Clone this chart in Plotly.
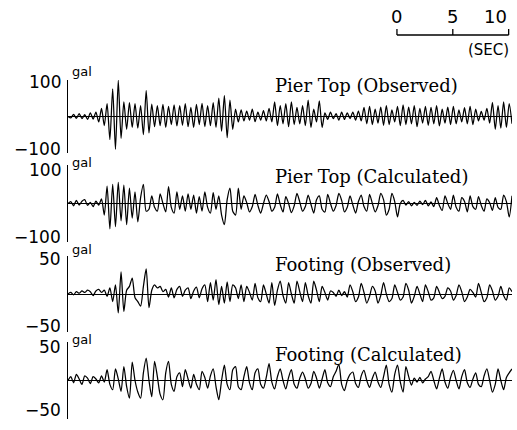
import numpy as np
import plotly.graph_objects as go

DT = 0.25  # seconds between samples

pier_top_observed = [
    0, -4, 6, -5, 8, -6, 5, -8, 10, -7,
    12, -15, 22, -25, 35, -63, 76, -90, 99, -60,
    40, -35, 38, -30, 35, -32,
    30, -50, 71, -45,
    34, -28, 30, -25, 33, -30, 28, -22, 32, -26, 30, -24, 35, -28, 25, -30, 33, -22, 36, -28, 30, -25, 38, -30,
    50, -40, 57, -58, 45, -35,
    20, -15, 18, -12, 15, -10, 20, -14, 12, -10, 16, -12, 22, -15,
    40, -25, 30, -20, 35, -28, 40, -22, 25, -20, 30, -25, 45, -30,
    20, -15, 43, -30,
    10, -8, 12, -6, 8, -10, 12, -8, 10, -6, 12, -10, 15, -12,
    25, -20, 28, -22, 20, -18, 26, -24, 30, -22, 18, -15, 28, -25, 32, -22, 26, -20, 30, -28, 22, -18, 28,
    -24, 25, -20, 30, -26, 20, -18, 26, -22, 28, -20, 18, -15, 24, -20, 28, -22, 20, -12, 14, -10, 22, -18,
    39, -35, 30, -32, 40, -30, 35, -20,
]

pier_top_calculated = [
    0, 5, -6, 8, -4, 6, 10, -5, 3, -8, 6, -4, 12,
    -30, 45, -66, 50, -60, 55, -45, 48, -55, 40, -38, 30, -48,
    15, 50, -20, -15,
    20, -10, -20, 25, 0, -22, 44, -10, -25, 30, -15, 20, -20, 25, -15, 22, -25, 18, -20, 30, -10, -25, 28, -15, 20, -30,
    -55, 10, 40, -20, -30, 40, -15,
    20, 2, -22, -8, 24, -5, -25, 0, 22, 5, -20, -10, 25, -3, -22, 18, 0, -24, -6, 26, 4, -20, -8, 22, -2, -25,
    10, 20, -15, -22, 24, 0, -20, -5, 26, 8, -22, -10, 20, -4, -25, 5, 22, -8, -20, 24, 0, -22, -6, 26, 10, -30,
    -15, 26, 5, -35, 0,
    8, -4, 5, -6, 3, -5, 6, -3, 8, -6, 4, -8,
    15, -5, -18, 20, 0, -15, 22, -10, -20, 15, 5, -22, 20, -8, -15, 18, -5, -20, 12, 2, -18, 15, -10, -15, 22, 5, -35, 20,
]

footing_observed = [
    0, 2, -1, 3, 1, 4, 2, 5, 3, -2, 4, 6, 2, 5, -3,
    8, -10, 12, -25, 29, -23,
    5, 10, 21, -5, -10, -16, 10, 33,
    -18, 5,
    12, 8, 10, 3, 6, -4, 8, -5, 6, 10, -3, 5, 8, -6, 4, 9, -5, 7,
    12, -10, 15, -8, 19, -14, 10, -12, 16, -10, 12,
    8, -6, 12, -10, 10, 2, -8, 14, -5, -10, 12, 0, -12, 15, -15,
    5, 17, -2, -12, 15, 0, -12, 17, 3, -10, 15, -2, -12, 17, 5, -10, 10, 2, -8,
    4, 2, -3, 5, -2, 3, -4,
    12, 3, -10, -4, 14, 2, -12, -3, 10, 4, -12, -2, 15, 0, -10, -6, 12, 2, -8, -4, 14, 5, -12, -3, 10, 0, -10,
    12, 3, -8, -5, 10, 2, -6, -3, 8, 4, -8, -2, 12, 3, -10, -4, 6, 2, -4, 14, 2, -10, -5, 12, 4, -8, -3, 10, -2,
    -8, 8, 3,
]

footing_calculated = [
    0, 5, -3, 8, 2, -5, 6, 3, -4, 5, 2, -3, 6, -2,
    14, -5, -12, 15, 2, -14, 18, -8, -23, 24, 0, -15,
    -23, 10, 29, 0, -21, 25, 5, -18, -25, 10, 25, -5,
    -14, 5, 10, -8, 14, 2, -10, 8, -5, -12, 12, 4, -10, 6, 15, -8,
    -25, 0, 20, -5, -12, 14, 18, -8, -12, 5, 18, -3, -12, 10, 15, -5, -10, 4,
    22, -2, -11, 5, 15, 0, -11, 4, 14, -5, -10, 3, 11, 2, -10, -4, 12, 3, -10, 2, 14, -3, -8, 5, 12,
    21, -5, -13, 0, 8,
    11, -4, -9, 6, 13, 0, -9, 3, 11, -2, -9, 5,
    20, -5, -15, 8, 20, -2, -15, 18,
    5, -6, 3, -2, 4, -3, 2, 5,
    12, 0, -11, 3, 15, -2, -10, 4, 13, 0, -11, 5, 14, -3, -9, 2, 10, -5, -8, 6, 15, 0, -15, -5,
    15, 0, -12, 4, 10, 15,
]

series = [pier_top_observed, pier_top_calculated, footing_observed, footing_calculated]
panel_titles = ["Pier Top (Observed)", "Pier Top (Calculated)", "Footing (Observed)", "Footing (Calculated)"]
y_limits = [100, 100, 50, 50]
unit_label = "gal"
scale_ticks = [0, 5, 10]
scale_unit = "(SEC)"

W, H = 517, 430
def fx(p):
    return p / W
def fy(p):
    return 1 - p / H

# pixel layout of each strip: (top, bottom)
strips = [(80, 153), (165, 242), (256, 332), (342, 419)]
top_label_y = [82, 170, 259, 347]
bot_label_y = [149, 237, 326, 410]
gal_y = [71, 162, 249, 339]
title_y = [85, 176, 264, 354]
x_left, x_right = 68, 512

fig = go.Figure()
layout = dict(
    width=W, height=H,
    margin=dict(l=0, r=0, t=0, b=0, autoexpand=False),
    paper_bgcolor="white", plot_bgcolor="white",
    showlegend=False,
)
annotations = []
shapes = []
t_end = (len(series[0]) - 1) * DT
label_font = dict(family="DejaVu Sans", size=17, color="black")
for k, vals in enumerate(series):
    t = np.arange(len(vals)) * DT
    n = "" if k == 0 else str(k + 1)
    fig.add_trace(go.Scatter(
        x=t, y=vals, mode="lines",
        line=dict(color="black", width=1.25, shape="spline", smoothing=0.7),
        xaxis="x" + n, yaxis="y" + n, hoverinfo="skip",
    ))
    top, bot = strips[k]
    lim = y_limits[k]
    layout["xaxis" + n] = dict(
        domain=[fx(x_left), fx(x_right)], range=[0, t_end], visible=False,
        anchor="y" + n, fixedrange=True, automargin=False,
    )
    layout["yaxis" + n] = dict(
        domain=[fy(bot), fy(top)], range=[-lim, lim], anchor="x" + n,
        showline=True, linecolor="black", linewidth=1.5,
        showgrid=False, zeroline=True, zerolinecolor="black", zerolinewidth=1,
        tickmode="array", tickvals=[-lim, lim], showticklabels=False,
        ticks="inside", ticklen=5, tickwidth=1.5, tickcolor="black",
        fixedrange=True, automargin=False,
    )
    annotations.append(dict(
        x=fx(63), y=fy(top_label_y[k]), xref="paper", yref="paper", text=str(lim),
        showarrow=False, xanchor="right", yanchor="middle", font=label_font,
    ))
    annotations.append(dict(
        x=fx(63), y=fy(bot_label_y[k]), xref="paper", yref="paper", text="\u2212" + str(lim),
        showarrow=False, xanchor="right", yanchor="middle", font=label_font,
    ))
    annotations.append(dict(
        x=fx(70), y=fy(gal_y[k]), xref="paper", yref="paper", text=unit_label,
        showarrow=False, xanchor="left", yanchor="middle",
        font=dict(family="DejaVu Sans", size=13, color="black"),
    ))
    annotations.append(dict(
        x=fx(273), y=fy(title_y[k]), xref="paper", yref="paper", text=panel_titles[k],
        showarrow=False, xanchor="left", yanchor="middle",
        font=dict(family="DejaVu Serif", size=18, color="black"),
    ))

# time scale bar, drawn on the time axis of the first strip
s0 = 29.45
shapes.append(dict(type="line", xref="x", yref="paper",
                   x0=s0 + scale_ticks[0], x1=s0 + scale_ticks[-1], y0=fy(35), y1=fy(35),
                   line=dict(color="black", width=1.3)))
for v in scale_ticks:
    shapes.append(dict(type="line", xref="x", yref="paper",
                       x0=s0 + v, x1=s0 + v, y0=fy(35), y1=fy(29),
                       line=dict(color="black", width=1.3)))
    anchor = "right" if v == scale_ticks[-1] else "center"
    annotations.append(dict(x=s0 + v + (0.05 if anchor == "right" else 0), y=fy(16),
                            xref="x", yref="paper", text=str(v),
                            showarrow=False, xanchor=anchor, yanchor="middle",
                            font=dict(family="DejaVu Sans", size=18, color="black")))
annotations.append(dict(x=fx(511), y=fy(50), xref="paper", yref="paper", text=scale_unit,
                        showarrow=False, xanchor="right", yanchor="middle",
                        font=dict(family="DejaVu Sans", size=15, color="black")))

layout["annotations"] = annotations
layout["shapes"] = shapes
fig.update_layout(**layout)
fig.write_html(
    "out.html",
    config={"displayModeBar": False, "staticPlot": True},
    post_script="document.body.style.margin='0';document.body.style.overflow='hidden';",
)
